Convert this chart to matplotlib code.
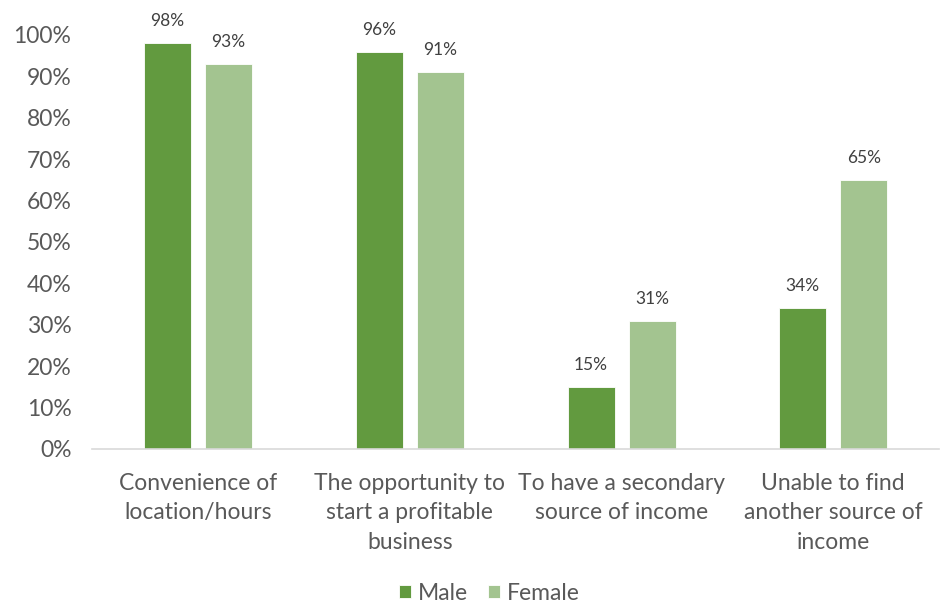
import matplotlib

matplotlib.use("Agg")
import matplotlib.pyplot as plt
import numpy as np

categories = [
    "Convenience of\nlocation/hours",
    "The opportunity to\nstart a profitable\nbusiness",
    "To have a secondary\nsource of income",
    "Unable to find\nanother source of\nincome",
]
male = [0.98, 0.96, 0.15, 0.34]
female = [0.93, 0.91, 0.31, 0.65]
series_names = ["Male", "Female"]
colors = ["#629A3F", "#A3C490"]
text_grey = "#595959"

plt.rcParams["font.family"] = ["Lato", "DejaVu Sans"]

fig = plt.figure(figsize=(9.41, 6.03), dpi=100)
ax = fig.add_axes([0.098, 0.2554, 0.90, 0.6866])

x = np.arange(len(categories))
width = 0.222
offset = 0.144

for vals, name, col, shift in zip([male, female], series_names, colors, [-offset, offset]):
    bars = ax.bar(x + shift, vals, width, color=col, label=name,
                  edgecolor="white", linewidth=0.6)
    for b, v in zip(bars, vals):
        ax.annotate(f"{v:.0%}", (b.get_x() + b.get_width() / 2, v),
                    xytext=(0, 10), textcoords="offset points",
                    ha="center", va="bottom", fontsize=12.5, color="#404040")

ax.set_xlim(-0.5, len(categories) - 0.5)
ax.set_ylim(0, 1.0)
ax.set_yticks(np.arange(0, 1.01, 0.1))
ax.set_yticklabels([f"{t:.0%}" for t in np.arange(0, 1.01, 0.1)])
ax.set_xticks(x)
ax.set_xticklabels(categories, linespacing=1.5)
ax.tick_params(axis="both", length=0, labelsize=16.5, colors=text_grey)
ax.tick_params(axis="x", pad=17)
ax.tick_params(axis="y", pad=15)

for side in ["top", "right", "left"]:
    ax.spines[side].set_visible(False)
ax.spines["bottom"].set_color("#D9D9D9")
ax.spines["bottom"].set_linewidth(1.2)

leg = fig.legend(loc="center", bbox_to_anchor=(0.52, 0.016), ncol=2, frameon=False,
                 fontsize=16.5, handlelength=0.5, handleheight=0.5,
                 handletextpad=0.3, columnspacing=0.9)
for t in leg.get_texts():
    t.set_color(text_grey)

fig.savefig("out.png", dpi=100)
